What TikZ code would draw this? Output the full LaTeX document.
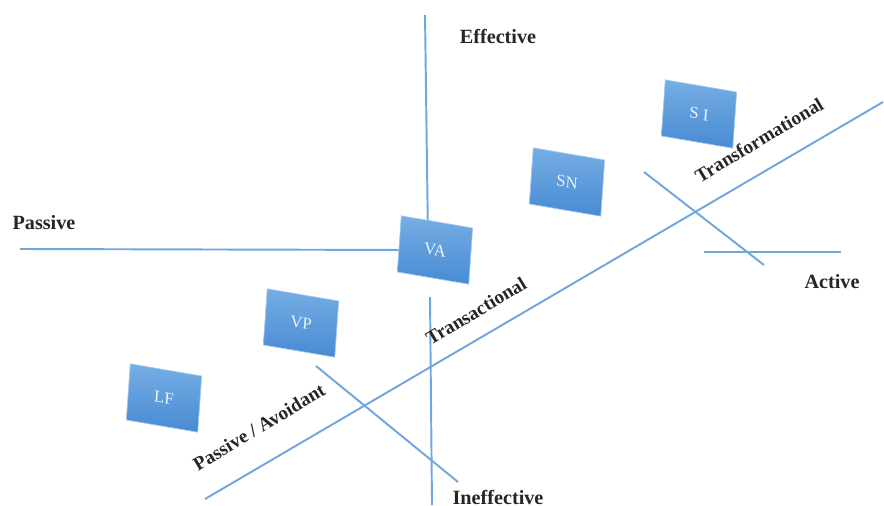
\documentclass[tikz,border=0pt]{standalone}
\usepackage{fontspec}
\setmainfont{Liberation Serif}
\usetikzlibrary{positioning}
\definecolor{axisblue}{RGB}{112,166,222}
\definecolor{boxtop}{RGB}{118,174,228}
\definecolor{boxbot}{RGB}{72,138,212}

\begin{document}
\begin{tikzpicture}[
  x=0.02cm, y=-0.02cm,
  axis/.style={axisblue, line width=1.1pt},
  quad/.style={rectangle, top color=boxtop, bottom color=boxbot,
               draw=boxtop!70!white, line width=0.4pt,
               minimum width=41pt, minimum height=32pt, inner sep=0pt,
               rotate=-4, yslant=-0.1,
               font=\fontsize{9.5}{11}\selectfont, text=white!88!boxtop},
  lbl/.style={font=\fontsize{11.5}{13}\selectfont\bfseries, text=black!85},
  dlbl/.style={lbl, font=\fontsize{11}{13}\selectfont\bfseries, rotate=31},
]
  \useasboundingbox (0,0) rectangle (884,506);

  \coordinate (vtop)  at (425,15);
  \coordinate (vmid)  at (428,240);
  \coordinate (vlow)  at (430,297);
  \coordinate (vbot)  at (432,505);
  \coordinate (pleft) at (20,249);
  \coordinate (pend)  at (410,250);
  \coordinate (aleft) at (704,252);
  \coordinate (aright) at (841,252);
  \coordinate (dlow)  at (205,499);
  \coordinate (dhigh) at (883,102);
  \coordinate (ta)    at (644,172);
  \coordinate (tb)    at (764,265);
  \coordinate (pa)    at (316,366);
  \coordinate (pb)    at (458,482);

  \draw[axis] (vtop) -- (vmid);
  \draw[axis] (vlow) -- (vbot);
  \draw[axis] (pleft) -- (pend);
  \draw[axis] (aleft) -- (aright);
  \draw[axis] (dlow) -- (dhigh);
  \draw[axis] (ta) -- (tb);
  \draw[axis] (pa) -- (pb);

  \node[quad] (si) at (699,114) {S I};
  \node[quad] (sn) at (567,182) {SN};
  \node[quad] (va) at (435,250) {VA};
  \node[quad] (vp) at (301,323) {VP};
  \node[quad] (lf) at (164,398) {LF};

  \node[lbl] (eff)   at (498,36)  {Effective};
  \node[lbl] (pas)   at (44,223)  {Passive};
  \node[lbl] (act)   at (832,282) {Active};
  \node[lbl] (ineff) at (498,497) {Ineffective};

  \node[dlbl] (trf) at (759,140) {Transformational};
  \node[dlbl] (trs) at (476,311) {Transactional};
  \node[dlbl] (pav) at (259,427) {Passive / Avoidant};
\end{tikzpicture}
\end{document}
